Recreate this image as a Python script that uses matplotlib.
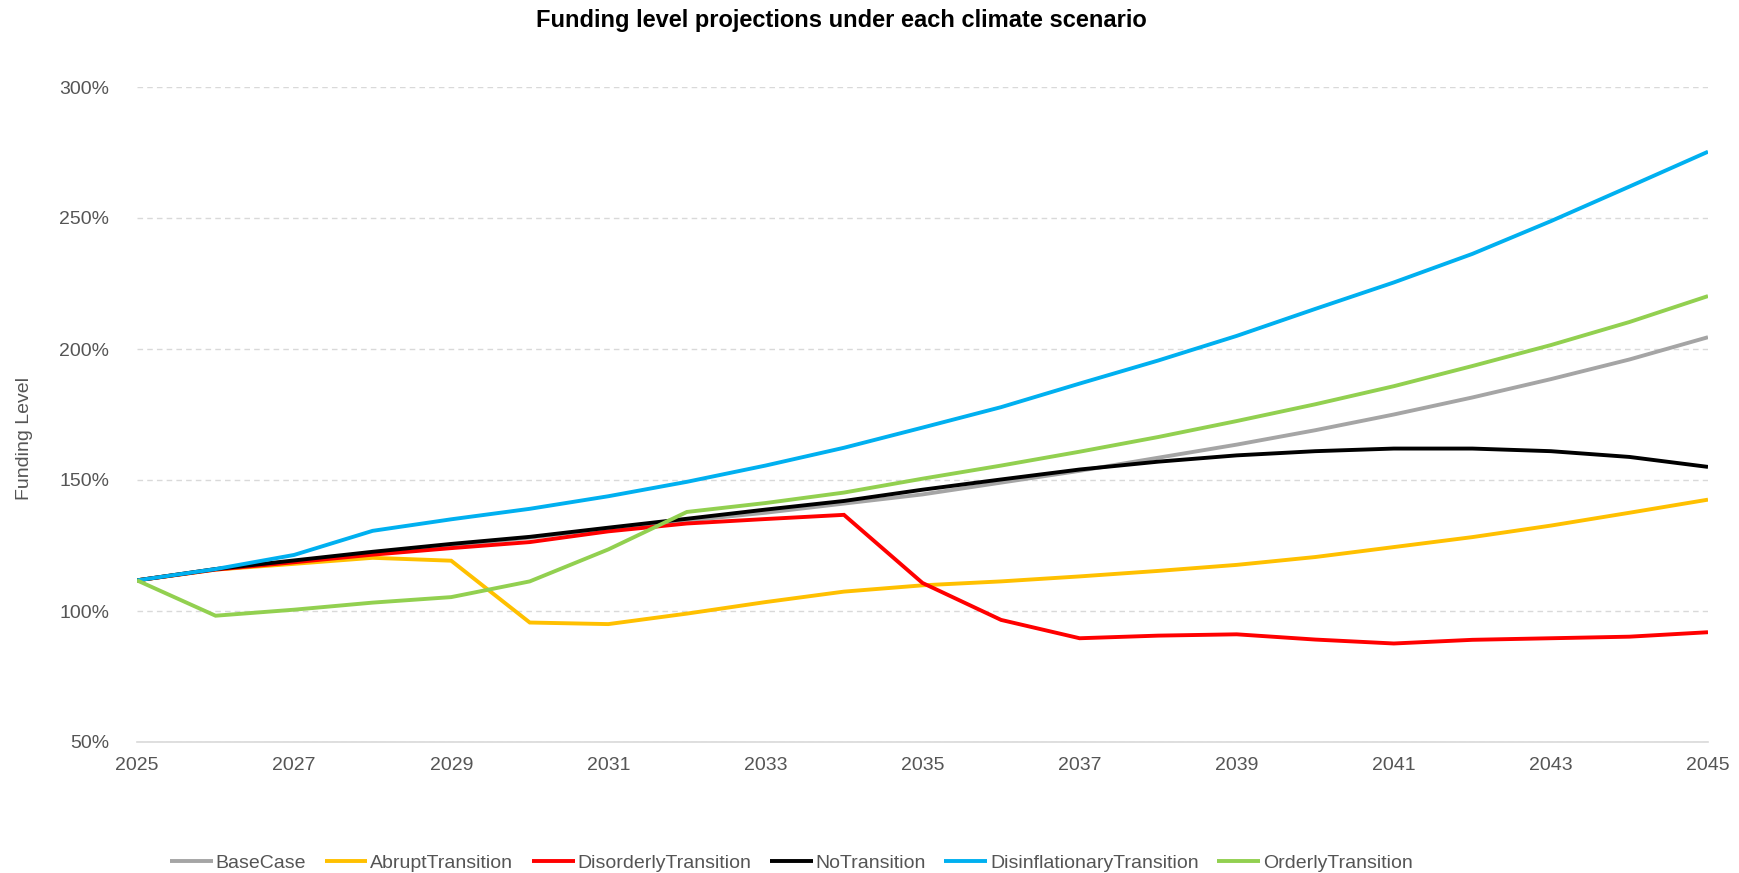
import matplotlib
matplotlib.use("Agg")
import matplotlib.pyplot as plt
from matplotlib.ticker import FuncFormatter

years = list(range(2025, 2046))

base_case = [111.7, 116.0, 119.0, 122.0, 125.0, 128.0, 131.5, 134.5, 137.5, 141.0,
             144.5, 149.0, 153.5, 158.5, 163.5, 169.0, 175.0, 181.5, 188.5, 196.0, 204.5]
abrupt = [111.7, 115.8, 118.0, 120.3, 119.2, 95.6, 95.0, 99.0, 103.4, 107.4,
          109.8, 111.3, 113.2, 115.3, 117.6, 120.6, 124.4, 128.2, 132.6, 137.5, 142.5]
disorderly = [111.7, 115.8, 118.6, 121.5, 124.0, 126.3, 130.4, 133.4, 135.1, 136.7,
              110.7, 96.6, 89.6, 90.6, 91.1, 89.1, 87.6, 89.0, 89.6, 90.2, 91.9]
no_transition = [111.7, 116.0, 119.3, 122.6, 125.6, 128.3, 131.8, 135.2, 138.7, 142.0,
                 146.3, 150.2, 154.0, 157.0, 159.4, 161.0, 162.0, 162.0, 161.0, 158.8, 155.0]
disinflationary = [111.7, 116.0, 121.4, 130.6, 135.0, 139.0, 143.8, 149.3, 155.5, 162.3,
                   170.0, 177.8, 186.8, 195.6, 205.0, 215.3, 225.4, 236.3, 248.8, 262.0, 275.3]
orderly = [111.7, 98.2, 100.5, 103.2, 105.3, 111.3, 123.5, 137.8, 141.2, 145.2,
           150.5, 155.5, 160.8, 166.4, 172.5, 178.9, 185.8, 193.5, 201.5, 210.3, 220.2]

series_names = ["BaseCase", "AbruptTransition", "DisorderlyTransition", "NoTransition",
                "DisinflationaryTransition", "OrderlyTransition"]
series_values = [base_case, abrupt, disorderly, no_transition, disinflationary, orderly]
series_colors = ["#A5A5A5", "#FFC000", "#FF0000", "#000000", "#00B0F0", "#92D050"]

plt.rcParams['font.family'] = ['Liberation Sans', 'DejaVu Sans']
text_grey = "#555555"

fig = plt.figure(figsize=(17.4, 8.73), dpi=100)
ax = fig.add_axes([137 / 1740, 1 - 742 / 873, (1708 - 137) / 1740, (742 - 87) / 873])

for name, vals, col in zip(series_names, series_values, series_colors):
    ax.plot(years, [v / 100 for v in vals], color=col, lw=2.8, label=name,
            solid_capstyle='butt', solid_joinstyle='miter')

ax.set_xlim(2025, 2045)
ax.set_ylim(0.5, 3.0)
ax.set_xticks(range(2025, 2046, 2))
ax.set_yticks([0.5, 1.0, 1.5, 2.0, 2.5, 3.0])
ax.yaxis.set_major_formatter(FuncFormatter(lambda v, p: f"{v * 100:.0f}%"))
ax.tick_params(length=0, labelsize=14, labelcolor=text_grey)
ax.tick_params(axis='x', pad=11)
ax.tick_params(axis='y', pad=20)

ax.grid(axis='y', color="#D9D9D9", ls=(0, (4, 3)), lw=1.0)
ax.set_axisbelow(True)
for s in ['top', 'right', 'left']:
    ax.spines[s].set_visible(False)
ax.spines['bottom'].set_color("#D9D9D9")
ax.spines['bottom'].set_linewidth(1.2)

fig.text(25 / 1740, 1 - 438 / 873, "Funding Level", rotation=90, ha='center', va='center',
         fontsize=14, color=text_grey)
fig.text(841 / 1740, 1 - 20 / 873, "Funding level projections under each climate scenario",
         ha='center', va='center', fontsize=17, fontweight='bold', color='black')

fig.legend(loc='center left', bbox_to_anchor=(170 / 1740, 1 - 863 / 873), ncol=6,
           frameon=False, fontsize=14, labelcolor=text_grey, handlelength=2.2,
           handletextpad=0.15, columnspacing=0.95, borderpad=0, borderaxespad=0)

fig.savefig("out.png", dpi=100)
